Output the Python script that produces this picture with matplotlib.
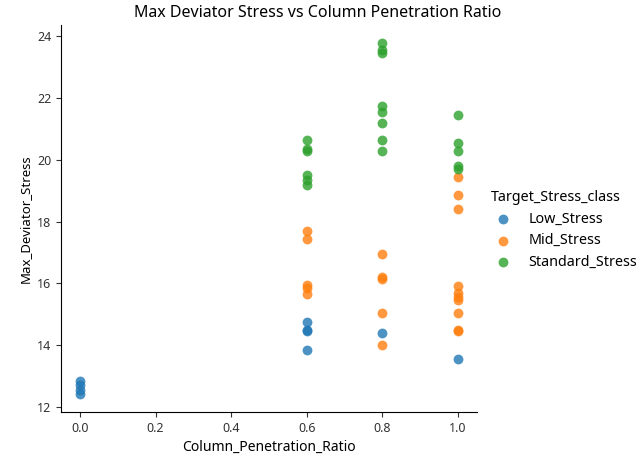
import matplotlib
matplotlib.use("Agg")
import matplotlib.pyplot as plt

# column penetration ratio vs max deviator stress, split by stress class
low_x = [0.0, 0.0, 0.0, 0.0, 0.6, 0.6, 0.6, 0.6, 0.8, 1.0]
low_y = [12.85, 12.7, 12.55, 12.4, 14.75, 14.5, 14.45, 13.85, 14.4, 13.55]

mid_x = [0.6, 0.6, 0.6, 0.6, 0.6,
         0.8, 0.8, 0.8, 0.8, 0.8,
         1.0, 1.0, 1.0, 1.0, 1.0, 1.0, 1.0, 1.0, 1.0, 1.0]
mid_y = [17.7, 17.45, 15.95, 15.85, 15.65,
         16.95, 16.2, 16.15, 15.05, 14.0,
         19.45, 18.85, 18.4, 15.9, 15.7, 15.55, 15.45, 15.05, 14.5, 14.45]

std_x = [0.6, 0.6, 0.6, 0.6, 0.6, 0.6,
         0.8, 0.8, 0.8, 0.8, 0.8, 0.8, 0.8, 0.8,
         1.0, 1.0, 1.0, 1.0, 1.0]
std_y = [20.65, 20.35, 20.3, 19.5, 19.35, 19.2,
         23.8, 23.55, 23.45, 21.75, 21.55, 21.2, 20.65, 20.3,
         21.45, 20.55, 20.3, 19.8, 19.7]

classes = ["Low_Stress", "Mid_Stress", "Standard_Stress"]
colors = ["#1f77b4", "#ff7f0e", "#2ca02c"]

plt.rcParams["font.family"] = ["Noto Sans", "DejaVu Sans"]

fig = plt.figure(figsize=(6.36, 4.58), dpi=100)
ax = fig.add_axes([61 / 636, 1 - 412 / 458, 416 / 636, 387 / 458])

for xs, ys, name, c in zip([low_x, mid_x, std_x], [low_y, mid_y, std_y], classes, colors):
    ax.scatter(xs, ys, s=50, color=c, alpha=0.8, linewidths=0, label=name)

ax.set_yticks([12, 14, 16, 18, 20, 22, 24])
ax.set_xticks([0.0, 0.2, 0.4, 0.6, 0.8, 1.0])
ax.spines["top"].set_visible(False)
ax.spines["right"].set_visible(False)
ax.tick_params(labelsize=9, colors="#333333")
ax.set_xlabel("Column_Penetration_Ratio", fontsize=10)
ax.set_ylabel("Max_Deviator_Stress", fontsize=9.5)
fig.suptitle("Max Deviator Stress vs Column Penetration Ratio", fontsize=11.5,
             x=0.5, y=0.99)

leg = ax.legend(title="Target_Stress_class", frameon=False, loc="center left",
                bbox_to_anchor=(1.0, 0.47), fontsize=10.3, title_fontsize=10.3,
                handletextpad=1.0, borderaxespad=0.6, labelspacing=0.45,
                handlelength=1.6)
leg._legend_box.align = "left"

fig.savefig("out.png", dpi=100)
